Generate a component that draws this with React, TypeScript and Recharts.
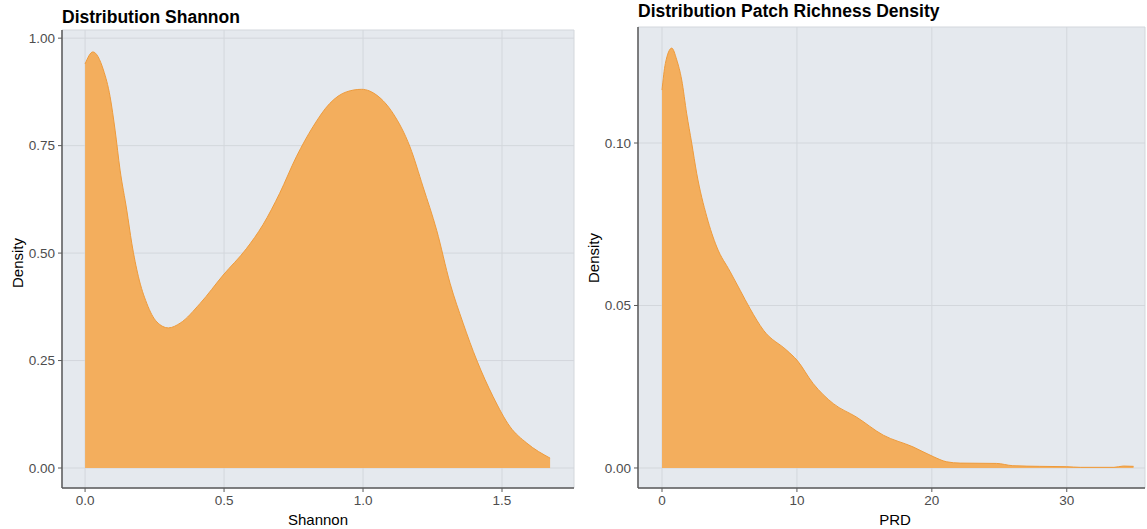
import React from "react";
import { AreaChart, Area, XAxis, YAxis, CartesianGrid } from "recharts";

// Shannon density curve
const shannonX = [
  0, 0.028, 0.066, 0.09, 0.108, 0.126, 0.15, 0.168, 0.192, 0.222, 0.258, 0.3,
  0.342, 0.414, 0.497, 0.58, 0.64, 0.7, 0.76, 0.82, 0.88, 0.94, 0.995, 1.05,
  1.108, 1.169, 1.216, 1.265, 1.313, 1.36, 1.409, 1.468, 1.529, 1.589, 1.673,
];
const shannonDensity = [
  0.94, 0.968, 0.926, 0.864, 0.786, 0.693, 0.6, 0.523, 0.445, 0.383, 0.34, 0.326,
  0.337, 0.383, 0.449, 0.51, 0.566, 0.639, 0.724, 0.794, 0.848, 0.875, 0.881, 0.867,
  0.825, 0.747, 0.654, 0.553, 0.43, 0.337, 0.251, 0.166, 0.096, 0.058, 0.023,
];
const shannonXTicks = [0, 0.5, 1, 1.5];
const shannonYTicks = [0, 0.25, 0.5, 0.75, 1];

// Patch richness density curve
const prdX = [
  0, 0.25, 0.72, 1.09, 1.46, 1.83, 2.2, 2.57, 3.32, 4.06, 5.04, 5.79, 6.53, 7.52,
  9.25, 10, 11.2, 12.7, 14.4, 16.4, 18.6, 20.1, 21.1, 22.1, 24.8, 26, 28, 30, 31,
  33.5, 34.2, 34.95,
];
const prdDensity = [
  0.1163, 0.1245, 0.1292, 0.1256, 0.1194, 0.109, 0.1, 0.0907, 0.0773, 0.068, 0.0605,
  0.0547, 0.049, 0.0424, 0.0362, 0.0332, 0.026, 0.0198, 0.0157, 0.0101, 0.0065,
  0.0035, 0.0019, 0.0015, 0.0014, 0.0007, 0.0005, 0.0004, 0.0002, 0.0002, 0.0006,
  0.0005,
];
const prdXTicks = [0, 10, 20, 30];
const prdYTicks = [0, 0.05, 0.1];

const FONT = '"Liberation Sans", Arial, sans-serif';
const PANEL = "#E5E9EE";
const GRID = "#D3D7DC";
const AXIS = "#5A5A5A";
const FILL = "#F3AE5D";
const EDGE = "#EE9B3C";

const shannonData = shannonX.map((x, i) => ({ x, density: shannonDensity[i] }));
const prdData = prdX.map((x, i) => ({ x, density: prdDensity[i] }));

interface PanelProps {
  data: { x: number; density: number }[];
  width: number;
  margin: { top: number; right: number; left: number; bottom: number };
  yWidth: number;
  xDomain: [number, number];
  yDomain: [number, number];
  xTicks: number[];
  yTicks: number[];
  xFmt: (v: number) => string;
  yFmt: (v: number) => string;
}

function DensityPanel(p: PanelProps) {
  const tick = { fontSize: 13.5, fill: "#4D4D4D", fontFamily: FONT };
  return (
    <AreaChart width={p.width} height={529} data={p.data} margin={p.margin}>
      <CartesianGrid fill={PANEL} fillOpacity={1} stroke={GRID} strokeWidth={1} />
      <XAxis
        type="number"
        dataKey="x"
        domain={p.xDomain}
        ticks={p.xTicks}
        allowDataOverflow
        interval={0}
        tickFormatter={p.xFmt}
        tick={tick}
        tickSize={4}
        tickMargin={3}
        height={41}
        axisLine={{ stroke: AXIS, strokeWidth: 1.5 }}
        tickLine={{ stroke: AXIS }}
      />
      <YAxis
        type="number"
        domain={p.yDomain}
        ticks={p.yTicks}
        allowDataOverflow
        interval={0}
        tickFormatter={p.yFmt}
        tick={tick}
        tickSize={4}
        tickMargin={3}
        width={p.yWidth}
        axisLine={{ stroke: AXIS, strokeWidth: 1.5 }}
        tickLine={{ stroke: AXIS }}
      />
      <Area
        type="monotone"
        dataKey="density"
        baseValue={0}
        stroke={EDGE}
        strokeWidth={1}
        fill={FILL}
        fillOpacity={1}
        isAnimationActive={false}
        dot={false}
        activeDot={false}
      />
    </AreaChart>
  );
}

const titleStyle: React.CSSProperties = {
  position: "absolute",
  fontFamily: FONT,
  fontWeight: "bold",
  fontSize: 17.5,
  color: "#000",
  lineHeight: "20px",
  whiteSpace: "nowrap",
};

const axisTitle: React.CSSProperties = {
  position: "absolute",
  fontFamily: FONT,
  fontSize: 15,
  color: "#000",
  lineHeight: "17px",
  whiteSpace: "nowrap",
};

export default function App() {
  return (
    <div
      style={{
        position: "absolute",
        left: 0,
        top: 0,
        width: 1147,
        height: 529,
        background: "#fff",
        overflow: "hidden",
      }}
    >
      <div style={{ position: "absolute", left: 0, top: 0 }}>
        <DensityPanel
          data={shannonData}
          width={580}
          margin={{ top: 30, right: 6, left: 0, bottom: 0 }}
          yWidth={62}
          xDomain={[-0.083, 1.759]}
          yDomain={[-0.0465, 1.019]}
          xTicks={shannonXTicks}
          yTicks={shannonYTicks}
          xFmt={(v) => v.toFixed(1)}
          yFmt={(v) => v.toFixed(2)}
        />
      </div>
      <div style={{ position: "absolute", left: 575, top: 0 }}>
        <DensityPanel
          data={prdData}
          width={572}
          margin={{ top: 27, right: 2, left: 0, bottom: 0 }}
          yWidth={63}
          xDomain={[-1.78, 35.8]}
          yDomain={[-0.00616, 0.1357]}
          xTicks={prdXTicks}
          yTicks={prdYTicks}
          xFmt={(v) => String(v)}
          yFmt={(v) => v.toFixed(2)}
        />
      </div>

      <div style={{ ...titleStyle, left: 62, top: 7 }}>Distribution Shannon</div>
      <div style={{ ...titleStyle, left: 638, top: 1 }}>Distribution Patch Richness Density</div>

      <div style={{ ...axisTitle, left: 318, top: 511, transform: "translateX(-50%)" }}>Shannon</div>
      <div style={{ ...axisTitle, left: 895, top: 511, transform: "translateX(-50%)" }}>PRD</div>

      <div
        style={{
          ...axisTitle,
          left: 17,
          top: 263,
          transform: "translate(-50%, -50%) rotate(-90deg)",
        }}
      >
        Density
      </div>
      <div
        style={{
          ...axisTitle,
          left: 593,
          top: 258,
          transform: "translate(-50%, -50%) rotate(-90deg)",
        }}
      >
        Density
      </div>
    </div>
  );
}
